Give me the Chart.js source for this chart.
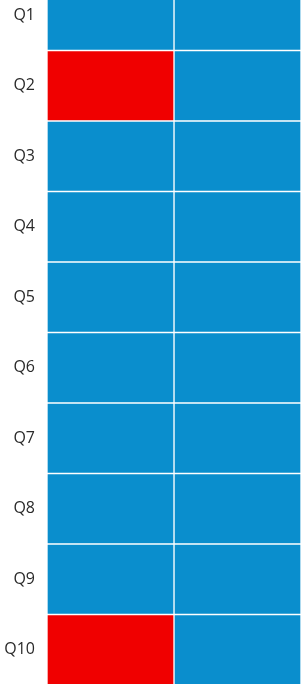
<!DOCTYPE html>
<html>
<head>
<meta charset="utf-8">
<script src="https://cdn.jsdelivr.net/npm/chart.js@4"></script>
<style>
    html, body { margin: 0; padding: 0; background: #fff; overflow: hidden; }
    #wrap { position: relative; width: 301px; height: 684px; overflow: hidden; }
    #box { position: absolute; left: 0; top: -20px; width: 301px; height: 705px; }
</style>
</head>
<body>
<div id="wrap"><div id="box"><canvas id="grid"></canvas></div></div>
<script>
    const questions = ['Q1', 'Q2', 'Q3', 'Q4', 'Q5', 'Q6', 'Q7', 'Q8', 'Q9', 'Q10'];
    const colA = [1, 1, 1, 1, 1, 1, 1, 1, 1, 1];
    const colB = [1, 1, 1, 1, 1, 1, 1, 1, 1, 1];
    // 1 = flagged (red), 0 = normal (blue)
    const colAFlag = [0, 1, 0, 0, 0, 0, 0, 0, 0, 1];
    const colBFlag = [0, 0, 0, 0, 0, 0, 0, 0, 0, 0];

    const blue = '#0a8ecd';
    const red = '#f00000';

    const ctx = document.getElementById('grid').getContext('2d');
    const grid = new Chart(ctx, {
        type: 'bar',
        data: {
            labels: questions,
            datasets: [{
                label: 'A',
                data: colA,
                backgroundColor: colAFlag.map(f => f ? red : blue),
                borderColor: '#ffffff',
                borderWidth: 1,
                borderSkipped: false,
                barPercentage: 1,
                categoryPercentage: 1
            }, {
                label: 'B',
                data: colB,
                backgroundColor: colBFlag.map(f => f ? red : blue),
                borderColor: '#ffffff',
                borderWidth: 1,
                borderSkipped: false,
                barPercentage: 1,
                categoryPercentage: 1
            }]
        },
        options: {
            indexAxis: 'y',
            responsive: true,
            maintainAspectRatio: false,
            animation: false,
            layout: { padding: 0 },
            plugins: {
                legend: { display: false },
                tooltip: { enabled: false }
            },
            scales: {
                x: {
                    stacked: true,
                    display: false,
                    min: 0,
                    max: 2
                },
                y: {
                    stacked: true,
                    grid: { display: false, drawTicks: false },
                    border: { display: false },
                    ticks: {
                        color: '#2a2a2a',
                        padding: 12,
                        font: { family: 'Open Sans', size: 16 }
                    },
                    afterFit: function (scale) {
                        scale.width = 47;
                        scale.paddingTop = 0;
                        scale.paddingBottom = 0;
                    }
                }
            }
        }
    });
</script>
</body>
</html>
